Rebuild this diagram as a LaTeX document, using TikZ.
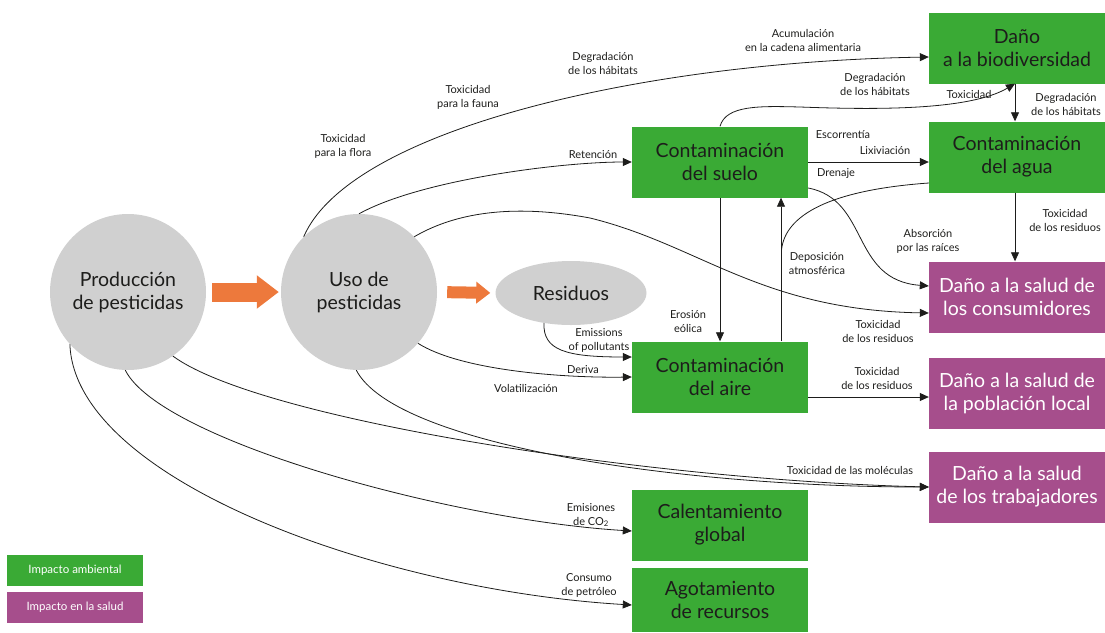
\documentclass[tikz,border=0pt]{standalone}
\usepackage{fontspec}
\setmainfont{Lato}
\usepackage{tikz}
\usetikzlibrary{shapes.geometric}
\usetikzlibrary{arrows.meta}
\usetikzlibrary{calc}
\usetikzlibrary{positioning}

\definecolor{envgreen}{RGB}{58,170,53}
\definecolor{healthpink}{RGB}{166,78,140}
\definecolor{blobgrey}{RGB}{208,208,208}
\definecolor{floworange}{RGB}{237,121,60}
\definecolor{ink}{RGB}{29,29,27}

\newcommand{\bigtxt}{\fontsize{19.5}{23}\selectfont}
\newcommand{\smalltxt}{\fontsize{11}{14}\selectfont}
\newcommand{\keytxt}{\fontsize{11.5}{13}\selectfont}

\tikzset{
	envbox/.style={rectangle, fill=envgreen, text=ink, minimum width=176pt, minimum height=71pt, inner sep=2pt, align=center, font=\bigtxt},
	healthbox/.style={envbox, fill=healthpink, text=white},
	blob/.style={circle, fill=blobgrey, text=ink, minimum size=156pt, align=center, font=\bigtxt},
	lbl/.style={align=center, inner sep=0pt, text=ink, font=\smalltxt},
	arr/.style={draw=ink, line width=0.8pt, -{Triangle[length=9pt,width=8pt]}},
	plain/.style={draw=ink, line width=0.8pt},
	fat/.style={draw=floworange},
	keybox/.style={rectangle, text=white, minimum width=136pt, minimum height=31pt, font=\keytxt}
}

\begin{document}
\begin{tikzpicture}[x=1pt,y=-1pt]
				\useasboundingbox (0,0) rectangle (1105,632);
				
				% Circles
				\node[blob] (prod) at (128,292) {Producción\\de pesticidas};
				\node[blob] (uso) at (359,292) {Uso de\\pesticidas};
				\node[ellipse, fill=blobgrey, text=ink, minimum width=151pt, minimum height=64pt, font=\bigtxt] (res) at (571,293) {Residuos};
				
				% Boxes
				\node[envbox] (suelo) at (720,162) {Contaminación\\del suelo};
				\node[envbox] (aire) at (720,377) {Contaminación\\del aire};
				\node[envbox] (calor) at (720,525) {Calentamiento\\global};
				\node[envbox, minimum height=64pt] (recursos) at (720,600) {Agotamiento\\de recursos};
				\node[envbox] (bio) at (1017,48) {Daño\\a la biodiversidad};
				\node[envbox] (agua) at (1017,157) {Contaminación\\del agua};
				\node[healthbox] (cons) at (1017,297) {Daño a la salud de\\los consumidores};
				\node[healthbox] (pob) at (1017,393) {Daño a la salud de\\la población local};
				\node[healthbox] (trab) at (1017,487) {Daño a la salud\\de los trabajadores};
				
				% Legend
				\node[keybox, fill=envgreen] (keyenv) at (75,570) {Impacto ambiental};
				\node[keybox, fill=healthpink] (keyhealth) at (75,607) {Impacto en la salud};
				
				% Orange arrows
				\draw[fat, line width=19pt, -{Triangle[length=22pt,width=32pt]}, shorten <=6pt, shorten >=2pt] (prod.east) -- (uso.west);
				\draw[fat, line width=12pt, -{Triangle[length=14pt,width=21pt]}, shorten <=10pt, shorten >=5pt] (uso.east) -- (res.west);
				
				% From Uso de pesticidas
				\draw[arr] (uso.135) .. controls (350,130) and (640,62) .. ([yshift=-9pt]bio.west);
				\draw[arr] (uso.90) .. controls (420,180) and (560,162) .. (suelo.west);
				\draw[arr] (uso.45) .. controls (460,210) and (520,205) .. (590,218) .. controls (700,245) and (760,310) .. ([yshift=-16pt]cons.west);
				\draw[arr] (uso.319) .. controls (460,370) and (560,378) .. (aire.west);
				\draw[arr] (uso.268) .. controls (395,445) and (680,487) .. (trab.west);
				
				% From Produccion
				\draw[arr] (prod.305) .. controls (260,420) and (650,480) .. (trab.west);
				\draw[arr] (prod.268) .. controls (160,440) and (450,520) .. ([yshift=-6pt]calor.west);
				\draw[arr] (prod.222) .. controls (75,480) and (380,590) .. ([yshift=-5pt]recursos.west);
				
				% From Residuos
				\draw[arr] (res.228) .. controls (543,350) and (565,357) .. ([yshift=20pt]aire.west);
				
				% Soil, air, water
				\coordinate (depo) at (781.5,250);
				\draw[arr] (suelo.south) -- (aire.north);
				\draw[arr] ([xshift=61pt]aire.north) -- ([xshift=61pt]suelo.south);
				\draw[plain] ([yshift=-26pt]agua.west) .. controls (830,190) and (785,215) .. (depo);
				\draw[arr] (suelo.east) -- (suelo.east -| agua.west);
				\draw[arr] ([yshift=-26pt]suelo.east) .. controls (870,200) and (850,280) .. ([yshift=11pt]cons.west);
				\draw[arr] (suelo.north) .. controls (726,105) and (760,106) .. (800,107) .. controls (880,110) and (970,110) .. ([xshift=-2pt]bio.south);
				\draw[arr] ([xshift=-2pt]bio.south) -- ([xshift=-2pt]agua.north);
				\draw[arr] ([xshift=-2pt]agua.south) -- ([xshift=-2pt]cons.north);
				\draw[arr] ([yshift=-20pt]aire.east) -- ([yshift=-20pt]aire.east -| pob.west);
				
				% Labels
				\node[lbl] (flora) at (343,146) {Toxicidad\\para la flora};
				\node[lbl] (fauna) at (468,97) {Toxicidad\\para la fauna};
				\node[lbl] (habitat1) at (603,63) {Degradación\\de los hábitats};
				\node[lbl] (cadena) at (803,40) {Acumulación\\en la cadena alimentaria};
				\node[lbl] (retencion) at (593,155) {Retención};
				\node[lbl] (habitat2) at (875,84) {Degradación\\de los hábitats};
				\node[lbl] (toxbio) at (969,94) {Toxicidad};
				\node[lbl] (habitat3) at (1066,104) {Degradación\\de los hábitats};
				\node[lbl] (escorrentia) at (843,135) {Escorrentía};
				\node[lbl] (lixiviacion) at (885,151) {Lixiviación};
				\node[lbl] (drenaje) at (836,173) {Drenaje};
				\node[lbl] (resagua) at (1065,220) {Toxicidad\\de los residuos};
				\node[lbl] (raices) at (928,241) {Absorción\\por las raíces};
				\node[lbl] (deposicion) at (817,264) {Deposición\\atmosférica};
				\node[lbl] (erosion) at (688,322) {Erosión\\eólica};
				\node[lbl] (emissions) at (599,340) {Emissions\\of pollutants};
				\node[lbl] (deriva) at (583,370) {Deriva};
				\node[lbl] (volat) at (526,388) {Volatilización};
				\node[lbl] (resuso) at (878,331) {Toxicidad\\de los residuos};
				\node[lbl] (resaire) at (877,378) {Toxicidad\\de los residuos};
				\node[lbl] (moleculas) at (850,470) {Toxicidad de las moléculas};
				\node[lbl] (co2) at (591,515) {Emisiones\\de CO\textsubscript{2}};
				\node[lbl] (petroleo) at (589,585) {Consumo\\de petróleo};
			\end{tikzpicture}
\end{document}
